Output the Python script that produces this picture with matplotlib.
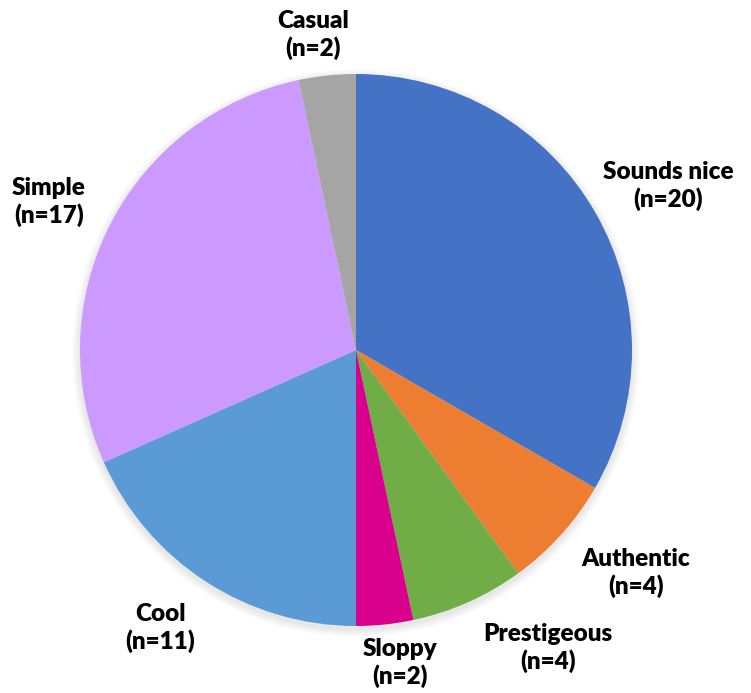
import matplotlib.pyplot as plt
from matplotlib.patches import Circle

labels = ['Sounds nice', 'Authentic', 'Prestigeous', 'Sloppy', 'Cool', 'Simple', 'Casual']
counts = [20, 4, 4, 2, 11, 17, 2]
colors = ['#4472C4', '#ED7D31', '#70AD47', '#D9008D', '#5B9BD5', '#CC99FF', '#A5A5A5']
# label centres in figure pixels (x, y from top)
label_pos = [(668, 186), (636, 573), (548, 648), (400, 663), (160, 628), (49, 202), (313, 35)]

W, H = 751, 693
fig = plt.figure(figsize=(W / 100, H / 100), dpi=100)
ax = fig.add_axes([0, 0, 1, 1])

cx, cy, r = 356, H - 350, 276

# soft shadow under the pie
for i in range(8):
    ax.add_patch(Circle((cx, cy - 3), r + 1 + i, color='black', alpha=0.012, lw=0, zorder=0))

ax.pie(counts, colors=colors, startangle=90, counterclock=False,
       center=(cx, cy), radius=r, frame=True,
       wedgeprops=dict(linewidth=0))
ax.set_xlim(0, W)
ax.set_ylim(0, H)
ax.set_aspect('equal')
ax.axis('off')

for name, n, (px, py) in zip(labels, counts, label_pos):
    ax.text(px, H - py, f'{name}\n(n={n})', ha='center', va='center',
            fontsize=17.5, fontweight='heavy', family='Lato', linespacing=1.25)

fig.savefig('out.png', dpi=100)
